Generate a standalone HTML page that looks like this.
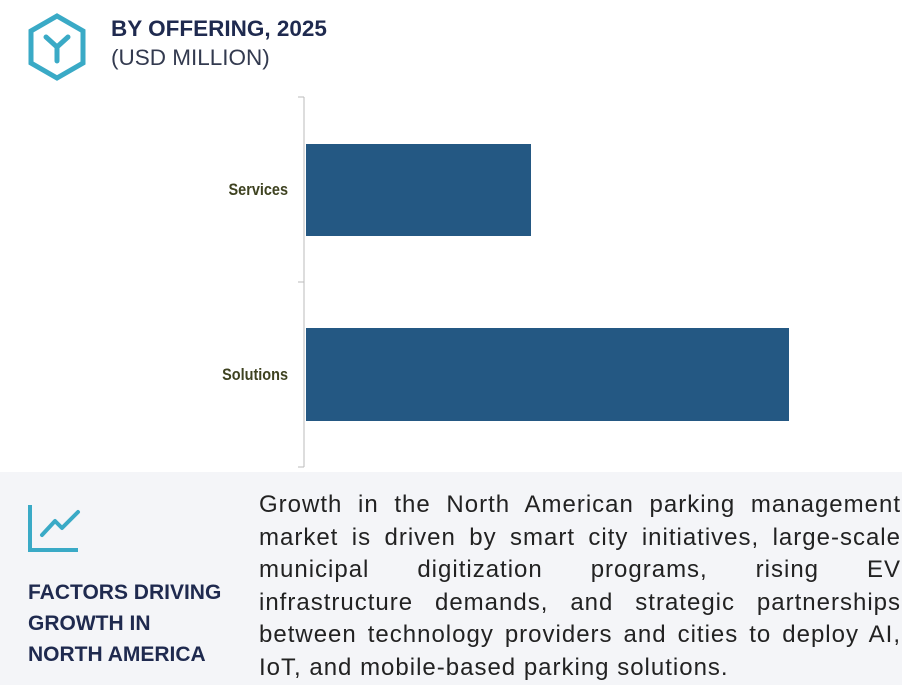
<!DOCTYPE html>
<html><head><meta charset="utf-8"><style>
body{margin:0;width:905px;height:685px;background:#fff;position:relative;overflow:hidden;font-family:"Liberation Sans",sans-serif}
.a{position:absolute}
.l{text-align:justify;text-align-last:justify;height:32.5px;white-space:nowrap}
</style></head><body>
<svg class="a" style="left:0;top:0" width="905" height="685">
<polygon points="57,16 83,31 83,63 57,78 31,63 31,31" fill="none" stroke="#3aaac6" stroke-width="5"/>
<path d="M46,37 L57,47 L68,37 M57,47 L57,61" fill="none" stroke="#3aaac6" stroke-width="5" stroke-linecap="round"/>
<line x1="304" y1="97" x2="304" y2="467" stroke="#bbb" stroke-width="1"/>
<line x1="298" y1="282" x2="304" y2="282" stroke="#bbb"/>
<line x1="298" y1="97" x2="304" y2="97" stroke="#bbb"/>
<line x1="298" y1="467" x2="304" y2="467" stroke="#bbb"/>
<rect x="306" y="144" width="225" height="92" fill="#245883"/>
<rect x="306" y="328" width="483" height="93" fill="#245883"/>
</svg>
<div class="a" style="left:111px;top:16px;font-size:22.5px;font-weight:bold;color:#1f2a4f">BY OFFERING, 2025</div>
<div class="a" style="left:111px;top:45px;font-size:22.5px;color:#333a4f">(USD MILLION)</div>
<div class="a" style="left:160px;top:180px;width:128px;text-align:right;font-size:17px;color:#3e4220;font-weight:bold;transform:scaleX(0.85);transform-origin:right">Services</div>
<div class="a" style="left:160px;top:365px;width:128px;text-align:right;font-size:17px;color:#3e4220;font-weight:bold;transform:scaleX(0.85);transform-origin:right">Solutions</div>
<div class="a" style="left:0;top:472px;width:902px;height:213px;background:#f4f5f8"></div>
<svg class="a" style="left:0;top:460px" width="100" height="100">
<path d="M30,45 L30,90 L78,90" fill="none" stroke="#3aaac6" stroke-width="4"/>
<path d="M42,75 L55,61 L62,68 L78,52" fill="none" stroke="#3aaac6" stroke-width="4" stroke-linecap="round" stroke-linejoin="round"/>
</svg>
<div class="a" style="left:28px;top:577px;font-size:21px;font-weight:bold;color:#1f2a4f;line-height:31px">FACTORS DRIVING<br>GROWTH IN<br>NORTH AMERICA</div>
<div class="a" style="left:259px;top:489px;width:642px;font-size:24px;line-height:32.5px;color:#222;letter-spacing:1px">
<div class="l">Growth in the North American parking management</div>
<div class="l">market is driven by smart city initiatives, large-scale</div>
<div class="l">municipal digitization programs, rising EV</div>
<div class="l">infrastructure demands, and strategic partnerships</div>
<div class="l">between technology providers and cities to deploy AI,</div>
<div style="height:32.5px;white-space:nowrap">IoT, and mobile-based parking solutions.</div>
</div>
</body></html>
